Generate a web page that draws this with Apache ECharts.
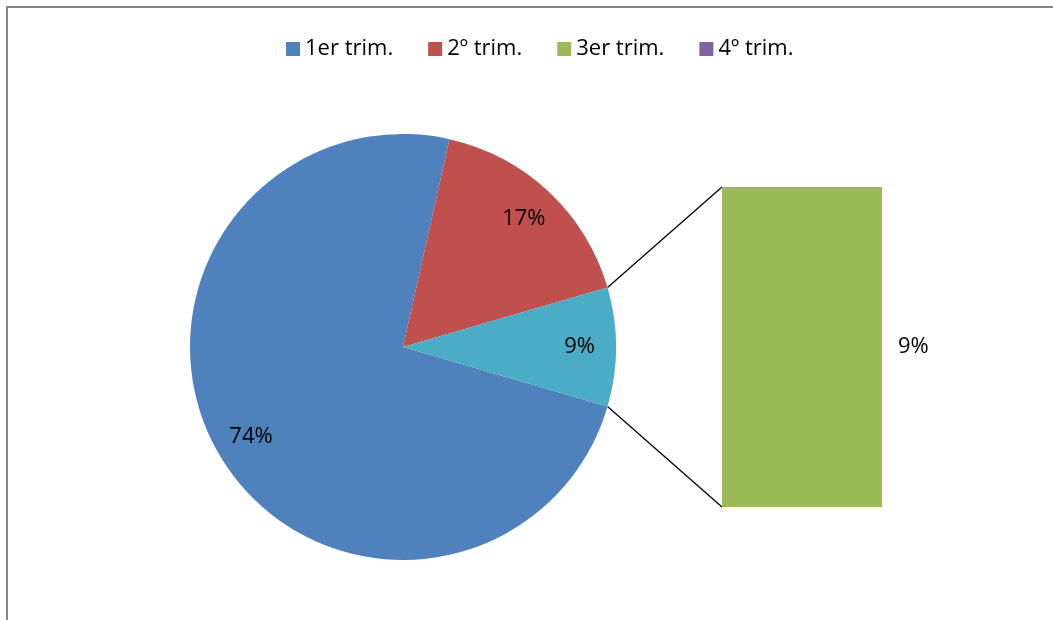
<!DOCTYPE html>
<html>
<head>
<meta charset="utf-8">
<script src="https://cdn.jsdelivr.net/npm/echarts@6/dist/echarts.min.js"></script>
<style>
html,body{margin:0;padding:0;background:#fff;}
#chart{width:1053px;height:620px;}
</style>
</head>
<body>
<div id="chart"></div>
<script>
// Data
const categories = ['1er trim.', '2º trim.', '3er trim.', '4º trim.'];
const values = [74, 17, 9, 0];
const colors = ['#4F81BD', '#C0504D', '#9BBB59', '#8064A2'];
const otherColor = '#4BACC6';
const otherName = 'Otro';

// Layout
const FONT = '"Open Sans", Lato, sans-serif';
const cx = 403, cy = 347, r = 213;
const barLeft = 722, barTop = 187, barW = 160, barH = 320;

const otherVal = values[2] + values[3];
const halfAngle = otherVal * 3.6 / 2;

const pieData = [
  { name: categories[0], value: values[0], itemStyle: { color: colors[0] } },
  { name: categories[1], value: values[1], itemStyle: { color: colors[1] } },
  { name: otherName, value: otherVal, itemStyle: { color: otherColor } }
];

const chart = echarts.init(document.getElementById('chart'), null, { renderer: 'canvas' });

const rad = halfAngle * Math.PI / 180;
const p1 = [cx + r * Math.cos(rad), cy - r * Math.sin(rad)];
const p2 = [cx + r * Math.cos(rad), cy + r * Math.sin(rad)];

chart.setOption({
  animation: false,
  backgroundColor: '#fff',
  color: colors,
  legend: {
    data: categories,
    top: 33,
    left: 281,
    itemWidth: 14,
    itemHeight: 14,
    itemGap: 35,
    icon: 'rect',
    textStyle: { fontFamily: FONT, fontSize: 22, color: '#000' }
  },
  grid: { left: barLeft, top: barTop, width: barW, height: barH, containLabel: false },
  xAxis: { type: 'category', data: [''], show: false },
  yAxis: { type: 'value', min: 0, max: otherVal, show: false },
  series: [
    {
      type: 'pie',
      center: [cx, cy],
      radius: [0, r],
      startAngle: 360 - halfAngle,
      clockwise: true,
      silent: true,
      label: { show: false },
      labelLine: { show: false },
      data: pieData
    },
    {
      type: 'pie',
      center: [cx, cy],
      radius: [r * 0.63, r],
      startAngle: 360 - halfAngle,
      clockwise: true,
      silent: true,
      itemStyle: { color: 'transparent' },
      label: {
        show: true,
        position: 'inside',
        formatter: '{c}%',
        fontFamily: FONT,
        fontSize: 22,
        color: '#000'
      },
      labelLine: { show: false },
      data: pieData.map(d => ({ name: d.name, value: d.value, itemStyle: { color: 'transparent' } }))
    },
    {
      type: 'bar',
      name: categories[2],
      stack: 'o',
      barWidth: '100%',
      itemStyle: { color: colors[2] },
      label: {
        show: true, position: 'right', distance: 16,
        formatter: '{c}%', fontFamily: FONT, fontSize: 22, color: '#000'
      },
      data: [values[2]]
    },
    {
      type: 'bar',
      name: categories[3],
      stack: 'o',
      barWidth: '100%',
      itemStyle: { color: colors[3] },
      label: { show: false },
      data: [values[3]]
    }
  ],
  graphic: [
    { type: 'rect', shape: { x: 7, y: 7, width: 1200, height: 800 }, style: { fill: 'none', stroke: '#868686', lineWidth: 2 }, z: 100 },
    { type: 'line', shape: { x1: p1[0], y1: p1[1], x2: barLeft, y2: barTop }, style: { stroke: '#000', lineWidth: 1.3 } },
    { type: 'line', shape: { x1: p2[0], y1: p2[1], x2: barLeft, y2: barTop + barH }, style: { stroke: '#000', lineWidth: 1.3 } }
  ]
});
</script>
</body>
</html>
